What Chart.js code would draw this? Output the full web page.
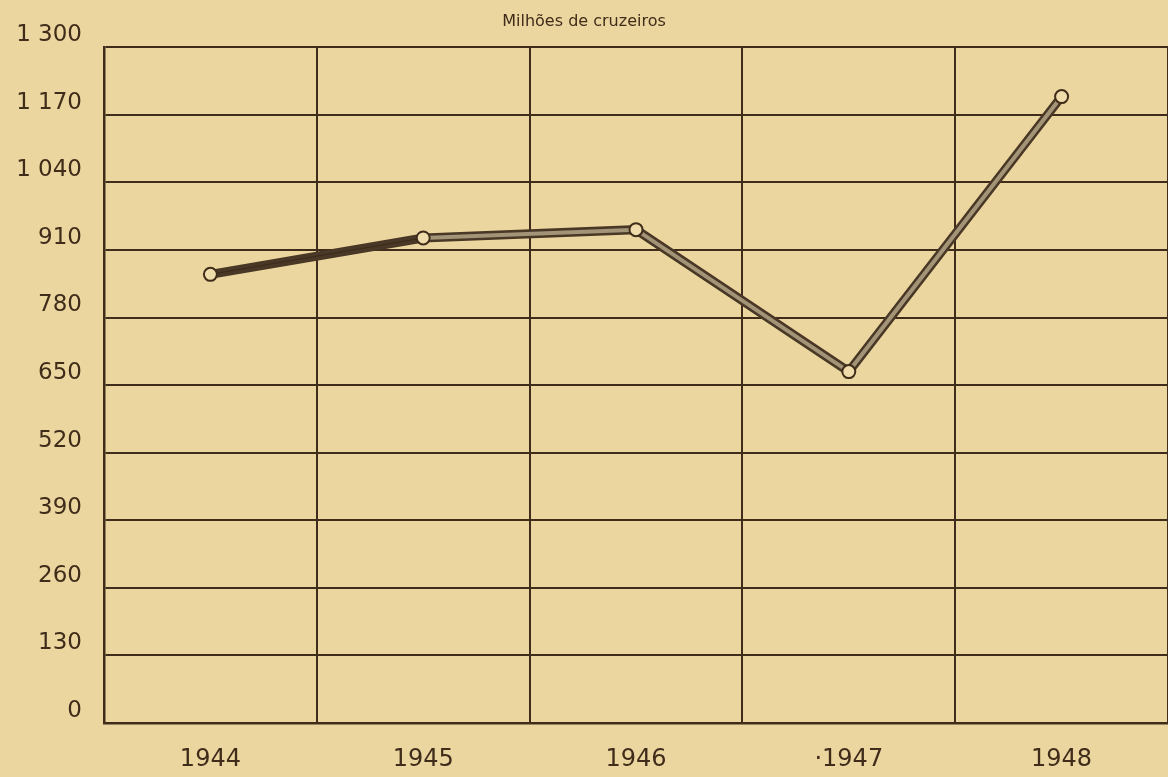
<!DOCTYPE html>
<html>
<head>
<meta charset="utf-8">
<script src="https://cdn.jsdelivr.net/npm/chart.js@4/dist/chart.umd.min.js"></script>
<style>
  html, body { margin: 0; padding: 0; background: #ecd69f; }
  #wrap { width: 1168px; height: 777px; }
</style>
</head>
<body>
<div id="wrap"><canvas id="myChart" width="1168" height="777"></canvas></div>
<script>
// anos e valores (milhões de cruzeiros)
const years = ["1944", "1945", "1946", "·1947", "1948"];
const values = [863, 933, 949, 676, 1205];
const yTicks = [0, 130, 260, 390, 520, 650, 780, 910, 1040, 1170, 1300];

const ink = "#3f2c1a";
const fmt = v => v >= 1000 ? Math.floor(v / 1000) + " " + String(v % 1000).padStart(3, "0") : String(v);

const ctx = document.getElementById("myChart").getContext("2d");
new Chart(ctx, {
  type: "line",
  data: {
    labels: years,
    datasets: [
      {
        // inner lighter stroke of the later segments
        data: values,
        borderColor: "#a39478",
        borderWidth: 4,
        segment: {
          borderColor: c => c.p0DataIndex === 0 ? "#3a2a1c" : "#a39478",
          borderWidth: c => c.p0DataIndex === 0 ? 0 : 4
        },
        pointRadius: 6.5,
        pointBorderWidth: 2,
        pointBorderColor: ink,
        pointBackgroundColor: "#efdcaa",
        order: 0
      },
      {
        // thick dark base line
        data: values,
        borderColor: "#4a3826",
        borderWidth: 9,
        pointRadius: 0,
        order: 1
      }
    ]
  },
  options: {
    responsive: false,
    animation: false,
    layout: { autoPadding: false, padding: { left: 0, right: 0, top: 0, bottom: 3 } },
    plugins: {
      legend: { display: false },
      tooltip: { enabled: false },
      title: {
        display: true,
        text: "Milhões de cruzeiros",
        color: ink,
        font: { family: "DejaVu Sans", size: 16, weight: "normal" },
        padding: { top: 12, bottom: 16 }
      }
    },
    scales: {
      x: {
        offset: true,
        afterFit: axis => { axis.height = 51; },
        grid: { offset: true, color: ink, lineWidth: 2, drawTicks: false },
        border: { color: ink, width: 2.5 },
        ticks: {
          color: ink,
          padding: 22,
          font: { family: "DejaVu Sans", size: 24 }
        }
      },
      y: {
        min: 0,
        max: 1300,
        afterBuildTicks: axis => { axis.ticks = yTicks.map(v => ({ value: v })); },
        afterFit: axis => { axis.width = 104; },
        grid: { color: ink, lineWidth: 2, drawTicks: false },
        border: { color: ink, width: 2.5 },
        ticks: {
          color: ink,
          padding: 22,
          labelOffset: -12,
          callback: v => fmt(v),
          font: { family: "DejaVu Sans", size: 23 }
        }
      }
    }
  }
});
</script>
</body>
</html>
